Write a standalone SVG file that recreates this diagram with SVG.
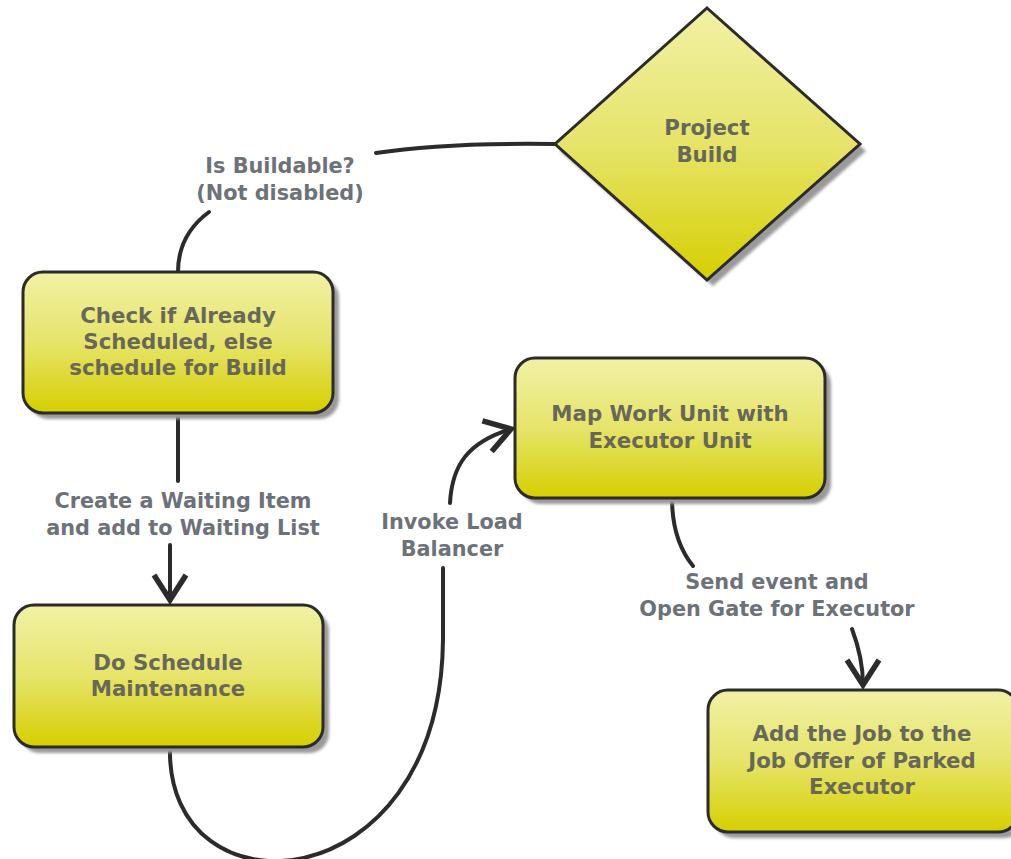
<svg xmlns="http://www.w3.org/2000/svg" width="1011" height="859" viewBox="0 0 1011 859">
<style>
.node{stroke:#2b2b2b;stroke-width:3;fill:url(#yg)}
.shadow{fill:#9a9a9a;filter:url(#blur)}
.nt{font-family:"DejaVu Sans","Liberation Sans",sans-serif;font-weight:bold;font-size:21.3px;fill:#686858;text-anchor:middle}
.lt{font-family:"DejaVu Sans","Liberation Sans",sans-serif;font-weight:bold;font-size:20.8px;fill:#6d7178;text-anchor:middle}
.con{fill:none;stroke:#2b2b2b;stroke-width:4;stroke-linecap:round}
</style>
<defs>
<linearGradient id="yg" x1="0" y1="0" x2="0" y2="1">
<stop offset="0" stop-color="#f1f1a6"/>
<stop offset="0.5" stop-color="#e6e46a"/>
<stop offset="1" stop-color="#d6cf00"/>
</linearGradient>
<filter id="blur" x="-10%" y="-10%" width="120%" height="120%"><feGaussianBlur stdDeviation="1.5"/></filter>
<marker id="chev" markerUnits="userSpaceOnUse" viewBox="0 0 40 40" markerWidth="40" markerHeight="40" refX="30" refY="20" orient="auto" overflow="visible">
<path d="M5,4 L30,20 L5,36" fill="none" stroke="#2b2b2b" stroke-width="5.5" stroke-linejoin="miter"/>
</marker>
</defs>
<rect width="1011" height="859" fill="#ffffff"/>

<g id="connectors">
<path class="con" d="M555,144 C480,143 420,146 376,153"/>
<path class="con" d="M209,212 C190,226 178,246 178,272"/>
<path class="con" d="M178,413 L178,481"/>
<path class="con" d="M170,545 L170,600" marker-end="url(#chev)"/>
<path class="con" d="M170,748 C166,920 440,905 443,640 L443,568"/>
<path class="con" d="M450,503 C452,465 468,442 511,429" marker-end="url(#chev)"/>
<path class="con" d="M672,498 C672,530 680,550 693,566"/>
<path class="con" d="M852,629 C858,645 863,663 863,685" marker-end="url(#chev)"/>
</g>

<g id="project-build">
<polygon class="shadow" points="713,14 866,151 713,286 560,151"/>
<polygon class="node" points="707,8 860,144 707,280 555,144"/>
<text class="nt" x="707" y="135">Project</text>
<text class="nt" x="707" y="162">Build</text>
</g>

<g id="check-scheduled">
<rect class="shadow" x="29" y="278" width="310" height="141" rx="20"/>
<rect class="node" x="23" y="272" width="310" height="141" rx="20"/>
<text class="nt" x="178" y="323">Check if Already</text>
<text class="nt" x="178" y="349">Scheduled, else</text>
<text class="nt" x="178" y="375">schedule for Build</text>
</g>

<g id="do-schedule">
<rect class="shadow" x="20" y="611" width="309" height="142" rx="20"/>
<rect class="node" x="14" y="605" width="309" height="142" rx="20"/>
<text class="nt" x="168" y="670">Do Schedule</text>
<text class="nt" x="168" y="696">Maintenance</text>
</g>

<g id="map-work-unit">
<rect class="shadow" x="521" y="364" width="310" height="140" rx="20"/>
<rect class="node" x="515" y="358" width="310" height="140" rx="20"/>
<text class="nt" x="670" y="421">Map Work Unit with</text>
<text class="nt" x="670" y="448">Executor Unit</text>
</g>

<g id="add-job">
<rect class="shadow" x="714" y="696" width="310" height="142" rx="20"/>
<rect class="node" x="708" y="690" width="310" height="142" rx="20"/>
<text class="nt" x="862" y="741">Add the Job to the</text>
<text class="nt" x="862" y="768">Job Offer of Parked</text>
<text class="nt" x="862" y="794">Executor</text>
</g>

<g id="labels">
<text class="lt" x="280" y="173">Is Buildable?</text>
<text class="lt" x="280" y="200">(Not disabled)</text>
<text class="lt" x="183" y="508">Create a Waiting Item</text>
<text class="lt" x="183" y="535">and add to Waiting List</text>
<text class="lt" x="452" y="529">Invoke Load</text>
<text class="lt" x="452" y="556">Balancer</text>
<text class="lt" x="777" y="589">Send event and</text>
<text class="lt" x="777" y="616">Open Gate for Executor</text>
</g>
</svg>
